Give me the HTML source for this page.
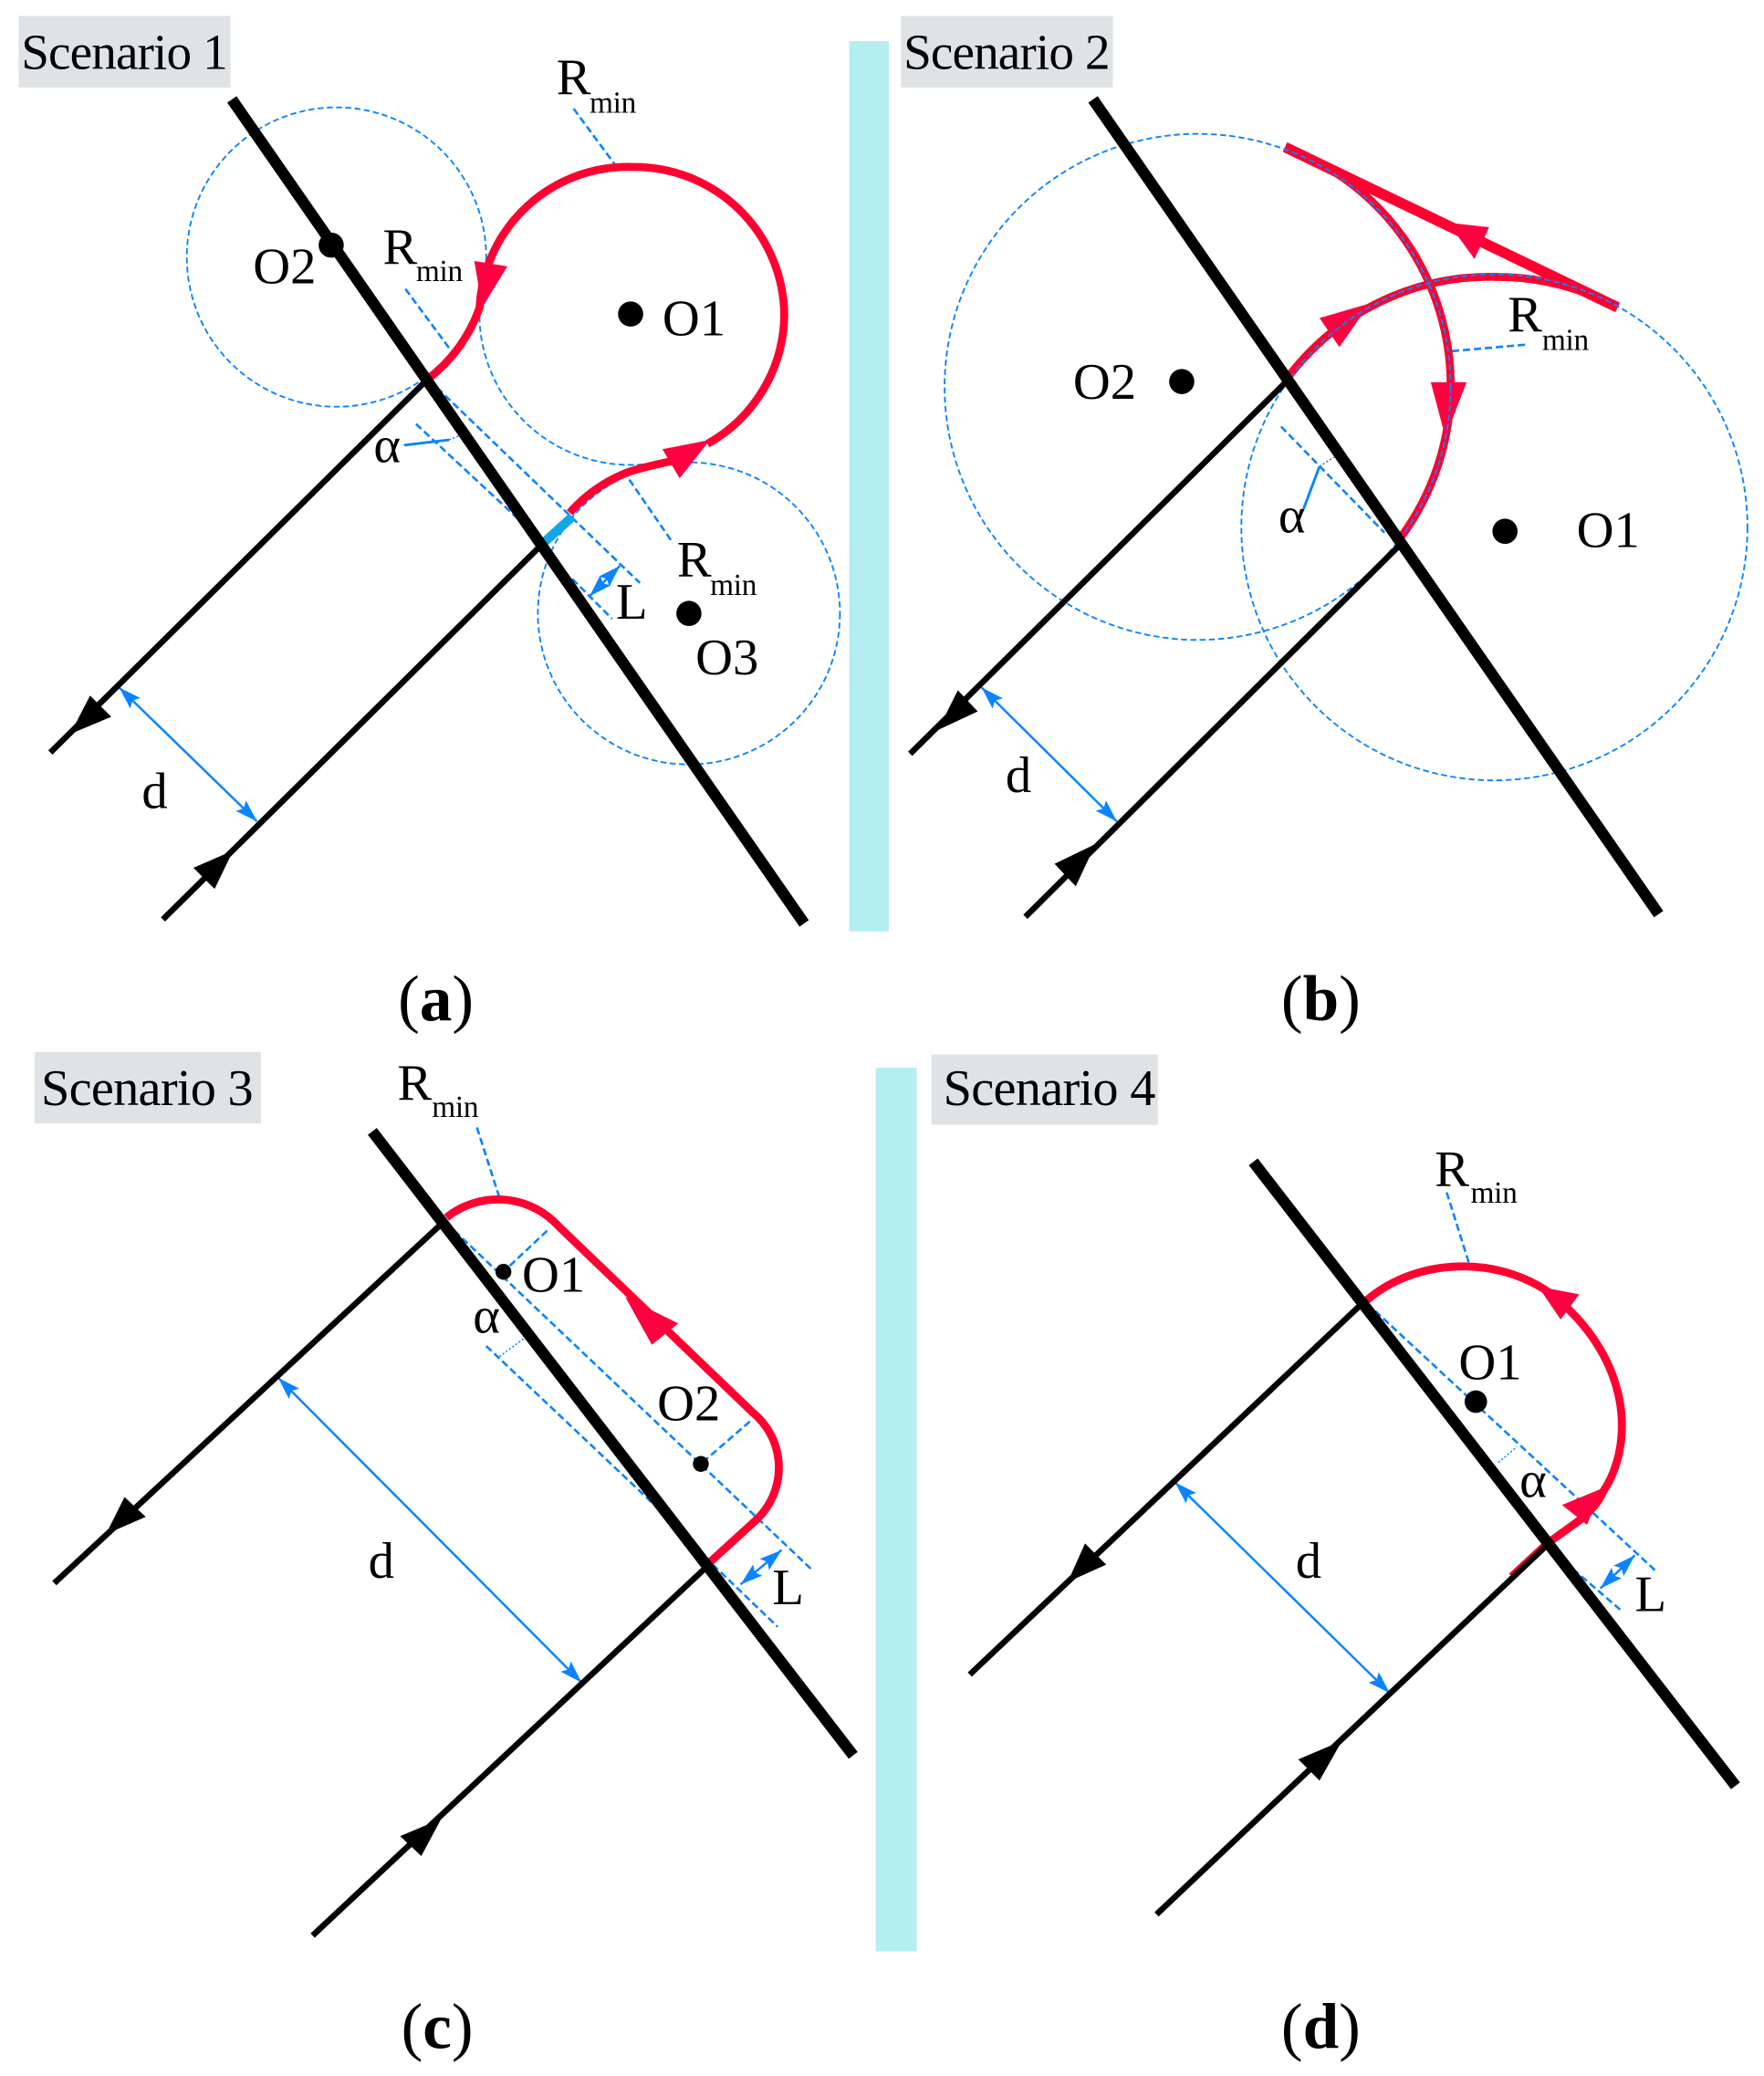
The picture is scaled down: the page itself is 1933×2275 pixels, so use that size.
<!DOCTYPE html>
<html><head><meta charset="utf-8"><style>
html,body{margin:0;padding:0;background:#fff}
svg{display:block}
text{font-family:"Liberation Serif",serif;font-size:39px;fill:#000}
.s{font-size:23px;letter-spacing:-.2px}
.sc{font-size:38px;letter-spacing:-.6px}
.sd{font-size:38.8px;letter-spacing:-.5px}
.cap{font-size:49px;text-anchor:middle}
.cap tspan{font-weight:bold}
.t{stroke:#000;stroke-width:8.5;fill:none}
.k{stroke:#000;stroke-width:4.5;fill:none}
.r{stroke:#ff0030;stroke-width:6;fill:none}
.c{stroke:#0a84ff;stroke-width:1.3;stroke-dasharray:4.5 2.5;fill:none}
.d{stroke:#0a84ff;stroke-width:1.8;stroke-dasharray:5.5 2.8;fill:none}
.o{stroke:#0a84ff;stroke-width:1;stroke-dasharray:1.5 1.5;fill:none}
.b{stroke:#0a84ff;stroke-width:1.7;fill:none;marker-start:url(#m);marker-end:url(#m)}
.l{stroke:#0a84ff;stroke-width:2;fill:none}
.g{fill:#e0e3e6}.y{fill:#b5eef1}.hr{fill:#ff0040}
</style></head><body>
<svg xmlns="http://www.w3.org/2000/svg" width="1933" height="2275" viewBox="0 0 1331.5 1567">
<defs><marker id="m" markerUnits="userSpaceOnUse" markerWidth="18" markerHeight="12" refX="17" refY="5.5" orient="auto-start-reverse"><path d="M0 0L17 5.5L0 11L3 5.5Z" fill="#0a84ff"/></marker></defs>
<rect width="1332" height="1568" fill="#fff"/>

<!-- Panel a -->
<rect class="y" x="641" y="31" width="30" height="672"/>
<rect class="g" x="14" y="12" width="160" height="54"/>
<text class="sc" x="16" y="52">Scenario 1</text>
<circle class="c" cx="254" cy="194" r="113"/>
<path class="c" d="M362 232A114 114 0 0 0 534 335"/>
<circle class="c" cx="520" cy="463" r="114"/>
<line class="d" x1="433" y1="82" x2="464" y2="124"/>
<line class="d" x1="306" y1="218" x2="340" y2="264"/>
<line class="d" x1="324" y1="287" x2="483" y2="440"/>
<line class="d" x1="314" y1="320" x2="413" y2="412"/>
<line class="d" x1="475" y1="362" x2="508" y2="410"/>
<line class="d" x1="432" y1="437" x2="462" y2="467"/>
<line class="b" x1="445" y1="450" x2="468" y2="427"/>
<line class="l" x1="305" y1="336" x2="339" y2="332"/>
<path class="o" d="M339 332L349 328"/>
<line class="b" x1="90" y1="519" x2="194" y2="620"/>
<path class="r" d="M323 286A115 115 0 0 0 362 232A112 112 0 0 1 478 126A113 113 0 0 1 592 238A113 113 0 0 1 534 335"/>
<path class="r" d="M430 387A115 115 0 0 1 475 356Q495 350 518 346"/>
<line x1="410" y1="410" x2="432" y2="390" stroke="#12a6ea" stroke-width="7"/>
<polygon class="hr" points="358,197 383,201 364,232"/>
<polygon class="hr" points="500,339 536,332 513,361"/>
<line class="t" x1="175" y1="75" x2="607" y2="697"/>
<line class="k" x1="322" y1="287" x2="38" y2="568"/>
<line class="k" x1="410" y1="410" x2="123" y2="694"/>
<polygon points="53,554 68,525 84,541"/>
<polygon points="176,642 146,655 162,671"/>
<circle cx="250" cy="185" r="9.5"/><circle cx="476" cy="237" r="9.5"/><circle cx="520" cy="463" r="9.5"/>
<text x="420" y="71">R</text><text class="s" x="445" y="85">min</text>
<text x="191" y="214">O2</text>
<text x="289" y="199">R</text><text class="s" x="314" y="212">min</text>
<text x="500" y="253">O1</text>
<text x="282" y="349">α</text>
<text x="511" y="435">R</text><text class="s" x="536" y="449">min</text>
<text x="465" y="467">L</text>
<text x="525" y="509">O3</text>
<text x="107" y="610">d</text>
<text class="cap" x="329" y="770">(<tspan>a</tspan>)</text>

<!-- Panel b -->
<rect class="g" x="680" y="12" width="160" height="54"/>
<text class="sc" x="682" y="52">Scenario 2</text>
<line class="d" x1="1096" y1="265" x2="1153" y2="260"/>
<line class="d" x1="967" y1="322" x2="1045" y2="402"/>
<line class="l" x1="984" y1="384" x2="996" y2="352"/>
<path class="o" d="M996 352L1007 345"/>
<line class="b" x1="741" y1="519" x2="843" y2="620"/>
<path class="r" style="stroke-width:8" d="M970 111L1221 232"/>
<path class="r" d="M970 111A192 192 0 0 1 1095 292A192 192 0 0 1 1057 406"/>
<path class="r" d="M972 285A191 191 0 0 1 1131 209A191 191 0 0 1 1221 232"/>
<polygon class="hr" points="996,240 1034,229 1011,262"/>
<polygon class="hr" points="1093,168 1124,171.5 1113,195.5"/>
<polygon class="hr" points="1080,288.5 1107,288.5 1091,330"/>
<circle class="c" cx="904" cy="292" r="191"/>
<circle class="c" cx="1128" cy="398" r="191"/>
<line class="t" x1="825" y1="75" x2="1252" y2="690"/>
<line class="k" x1="972" y1="287" x2="687" y2="569"/>
<line class="k" x1="1058" y1="410" x2="774" y2="692"/>
<polygon points="708,551 723,521 738,537"/>
<polygon points="827,637 796,652 812,669"/>
<circle cx="892" cy="288" r="9.5"/><circle cx="1136" cy="401" r="9.5"/>
<text x="810" y="301">O2</text>
<text x="1190" y="413">O1</text>
<text x="1138" y="250">R</text><text class="s" x="1164" y="264">min</text>
<text x="965" y="402">α</text>
<text x="759" y="598">d</text>
<text class="cap" x="997" y="770">(<tspan>b</tspan>)</text>

<!-- Panel c -->
<rect class="y" x="661" y="806" width="31" height="667"/>
<rect class="g" x="26" y="794" width="171" height="54"/>
<text class="sd" x="31" y="834">Scenario 3</text>
<line class="d" x1="343" y1="929" x2="614" y2="1186"/>
<line class="d" x1="367" y1="1016" x2="494" y2="1136"/>
<line class="d" x1="413" y1="929" x2="380" y2="960"/>
<line class="d" x1="566" y1="1073" x2="529" y2="1105"/>
<line class="d" x1="360" y1="851" x2="377" y2="904"/>
<line class="d" x1="538" y1="1181" x2="587" y2="1228"/>
<line class="b" x1="559" y1="1196" x2="590" y2="1170"/>
<path class="o" d="M377 1024L396 1010"/>
<line class="b" x1="210" y1="1040" x2="439" y2="1270"/>
<path class="r" d="M536 1179L570 1148A54 54 0 0 0 568 1066L422 926A62 62 0 0 0 337 919"/>
<polygon class="hr" points="472,979 512,999 492,1015"/>
<line class="t" x1="281" y1="854" x2="644" y2="1325"/>
<line class="k" x1="333" y1="924" x2="41" y2="1195"/>
<line class="k" x1="532" y1="1184" x2="236" y2="1461"/>
<polygon points="80,1158 94,1130 110,1145"/>
<polygon points="333,1373 302,1386 318,1401"/>
<circle cx="380" cy="960" r="6"/><circle cx="529" cy="1105" r="6"/>
<text x="300" y="830">R</text><text class="s" x="326" y="843">min</text>
<text x="394" y="975">O1</text>
<text x="357" y="1006">α</text>
<text x="496" y="1072">O2</text>
<text x="583" y="1211">L</text>
<text x="278" y="1191">d</text>
<text class="cap" x="330" y="1546">(<tspan>c</tspan>)</text>

<!-- Panel d -->
<rect class="g" x="703" y="796" width="171" height="53"/>
<text class="sd" x="712" y="834">Scenario 4</text>
<line class="d" x1="1032" y1="984" x2="1250" y2="1186"/>
<line class="d" x1="1181" y1="1179" x2="1223" y2="1215"/>
<line class="d" x1="1092" y1="900" x2="1109" y2="954"/>
<line class="b" x1="1208" y1="1199" x2="1234" y2="1174"/>
<path class="o" d="M1131 1104L1145 1092"/>
<line class="b" x1="887" y1="1119" x2="1049" y2="1278"/>
<path class="r" d="M1141 1190L1168 1165L1193 1147Q1206 1136 1210 1126C1234 1090 1232 1025 1170 976C1125 945 1065 952 1031 982"/>
<polygon class="hr" points="1161,971 1192,977 1178,996"/>
<polygon class="hr" points="1208,1124 1179,1136 1198,1151"/>
<line class="t" x1="946" y1="877" x2="1310" y2="1348"/>
<line class="k" x1="1028" y1="984" x2="732" y2="1264"/>
<line class="k" x1="1168" y1="1166" x2="873" y2="1445"/>
<polygon points="806,1194 819,1165 835,1181"/>
<polygon points="1013,1314 980,1328 996,1344"/>
<circle cx="1114" cy="1058" r="8.5"/>
<text x="1083" y="895">R</text><text class="s" x="1110" y="908">min</text>
<text x="1101" y="1041">O1</text>
<text x="1147" y="1130">α</text>
<text x="1234" y="1216">L</text>
<text x="978" y="1191">d</text>
<text class="cap" x="997" y="1546">(<tspan>d</tspan>)</text>
</svg>
</body></html>
